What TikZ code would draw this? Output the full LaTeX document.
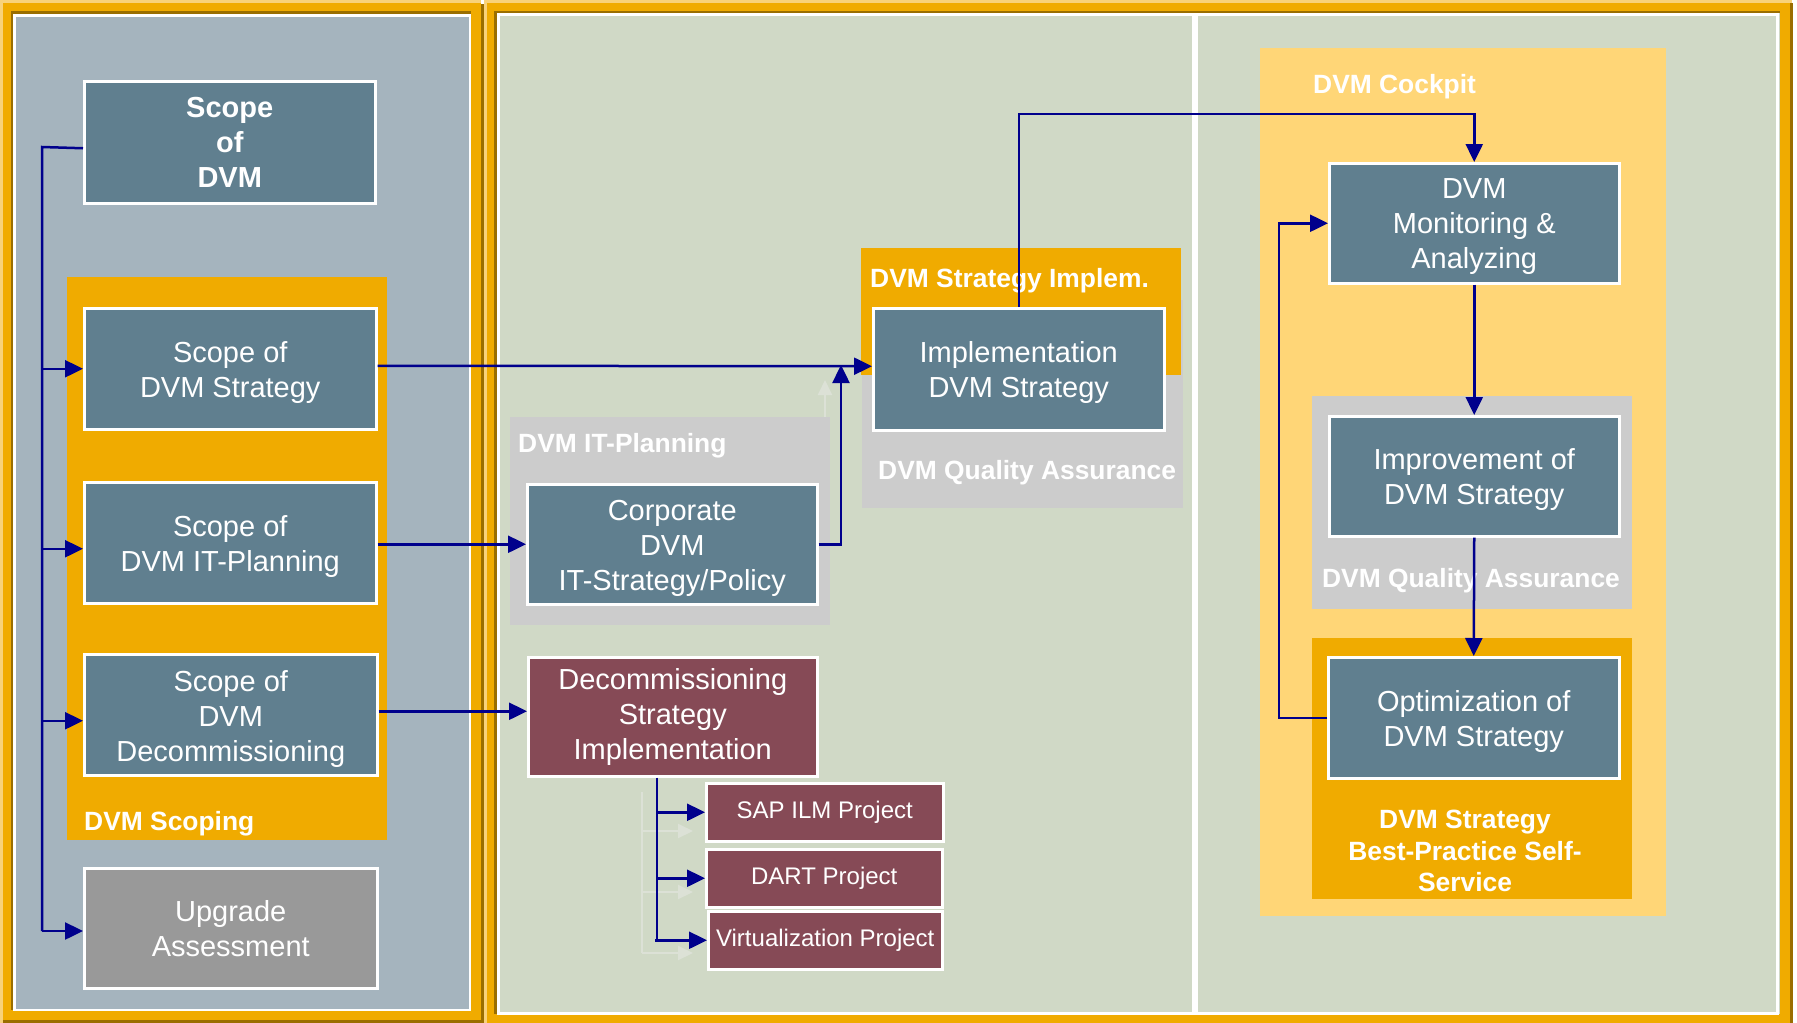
\documentclass[tikz,border=0pt]{standalone}
\usepackage{fontspec}
\setmainfont{Liberation Sans}
\usetikzlibrary{arrows.meta}
\definecolor{sapgold}{HTML}{F0AB00}
\definecolor{lightgold}{HTML}{FFD677}
\definecolor{framebrown}{HTML}{9A6E00}
\definecolor{framelight}{HTML}{F8D27A}
\definecolor{leftbg}{HTML}{A5B4BE}
\definecolor{rightbg}{HTML}{D0D9C6}
\definecolor{slate}{HTML}{607F8F}
\definecolor{maroon}{HTML}{864A56}
\definecolor{lgray}{HTML}{CCCCCC}
\definecolor{upgray}{HTML}{999999}
\definecolor{navy}{HTML}{00008C}
\definecolor{ghostc}{HTML}{DCE1D6}
\newcommand\bxfont{\fontsize{29}{35}\selectfont}
\newcommand\bxboldfont{\fontsize{29}{35}\selectfont\bfseries}
\newcommand\prjfont{\fontsize{24}{29}\selectfont}
\newcommand\lblfont{\fontsize{26.4}{31.5}\selectfont\bfseries}
\newcommand\fl{\rule{0pt}{28.5pt}}
\newcommand\fls{\rule{0pt}{26pt}}
\tikzset{
  box/.style={rectangle, draw=white, line width=2.5pt, fill=slate, text=white,
    align=center, font=\bxfont, inner sep=0pt, anchor=north west},
  boldbox/.style={box, font=\bxboldfont},
  mbox/.style={box, fill=maroon},
  pbox/.style={box, fill=maroon, font=\prjfont},
  lbl/.style={text=white, font=\lblfont, inner sep=0pt, anchor=base west},
  conn/.style={draw=navy, line width=2.5pt},
  arr/.style={conn, -{Triangle[length=18pt,width=17pt]}},
  ghost/.style={draw=ghostc, line width=2pt},
  ghostarr/.style={ghost, -{Triangle[length=15pt,width=14pt]}},
}
\begin{document}
\begin{tikzpicture}[x=1pt,y=-1pt]
\useasboundingbox (0,0) rectangle (1797,1023);
% ---------- panels ----------
\fill[leftbg] (12,12) rectangle (472,1012);
\fill[rightbg] (494,11) rectangle (1781,1014);
\draw[framebrown, line width=10pt] (8,8.5) rectangle (478.5,1017.5);
\draw[framebrown, line width=10pt] (491.5,8) rectangle (1787.5,1021);
\draw[sapgold, line width=10pt] (5.5,6) rectangle (476,1015);
\draw[sapgold, line width=10pt] (489,5.5) rectangle (1785,1018.5);
\draw[framelight, line width=2.5pt] (1.25,1023) -- (1.25,1.25) -- (481,1.25);
\draw[framelight, line width=2.5pt] (485.25,1023) -- (485.25,1.25) -- (1792,1.25);
\draw[white, line width=2.5pt] (14.25,15.25) rectangle (470,1010);
\draw[white, line width=3pt] (498.5,14.5) rectangle (1777.5,1013.5);
\fill[white] (1192,16) rectangle (1198,1012);
% ---------- group backgrounds ----------
\fill[sapgold] (67,277) rectangle (387,840);
\fill[lgray] (510,417) rectangle (830,625);
\fill[lgray] (862,300) rectangle (1183,508);
\fill[sapgold] (861,248) rectangle (1181,375);
\fill[lightgold] (1260,48) rectangle (1666,916);
\fill[lgray] (1312,396) rectangle (1632,609);
\fill[sapgold] (1312,638) rectangle (1632,899);
% ---------- group labels ----------
\node[lbl] (lScoping) at (84,830) {DVM Scoping};
\node[lbl] (lITPlan) at (518,452) {DVM IT-Planning};
\node[lbl] (lImplem) at (870,287) {DVM Strategy Implem.};
\node[lbl] (lQA1) at (878,479) {DVM Quality Assurance};
\node[lbl] (lCockpit) at (1313,93) {DVM Cockpit};
\node[lbl, anchor=base] (lQA2) at (1471,587) {DVM Quality Assurance};
\node[lbl, anchor=center, align=center] (lBP) at (1465,851) {DVM Strategy\\Best-Practice Self-\\Service};
% ---------- boxes ----------
\node[boldbox, minimum width=291pt, minimum height=122pt] (scopeDVM) at (83,80) {Scope\\of\\DVM};
\node[box, minimum width=292pt, minimum height=121pt] (strat) at (83,307) {\fl Scope of\\DVM Strategy};
\node[box, minimum width=292pt, minimum height=121pt] (itplan) at (83,481) {\fl Scope of\\DVM IT-Planning};
\node[box, minimum width=293pt, minimum height=121pt] (decom) at (83,653) {\fl Scope of\\DVM\\Decommissioning};
\node[box, fill=upgray, minimum width=293pt, minimum height=120pt] (upgrade) at (83,867) {Upgrade\\Assessment};
\node[box, minimum width=290pt, minimum height=120pt] (corp) at (526,483) {\fl Corporate\\DVM\\IT-Strategy/Policy};
\node[box, minimum width=291pt, minimum height=122pt] (impl) at (872,307) {\fl Implementation\\DVM Strategy};
\node[mbox, minimum width=289pt, minimum height=119pt] (decomImpl) at (527,656) {Decommissioning\\Strategy\\Implementation};
\node[pbox, minimum width=237pt, minimum height=58pt] (sap) at (705,782) {SAP ILM Project};
\node[pbox, minimum width=236pt, minimum height=58pt] (dart) at (705,848) {DART Project};
\node[pbox, minimum width=234pt, minimum height=58pt] (virt) at (707,910) {Virtualization Project};
\node[box, minimum width=290pt, minimum height=120pt] (mon) at (1328,162) {\fls DVM\\Monitoring \&\\Analyzing};
\node[box, minimum width=290pt, minimum height=120pt] (imp) at (1328,415) {\fl Improvement of\\DVM Strategy};
\node[box, minimum width=291pt, minimum height=121pt] (opt) at (1327,656) {\fl Optimization of\\DVM Strategy};
% ---------- ghost arrows ----------
\coordinate (g1) at (642,792);
\coordinate (g2) at (642,953);
\coordinate (gh1) at (693,831);
\coordinate (gh2) at (693,892);
\coordinate (gh3) at (693,953);
\draw[ghost] (g1) -- (g2);
\draw[ghostarr] (gh1 -| g1) -- (gh1);
\draw[ghostarr] (gh2 -| g1) -- (gh2);
\draw[ghostarr] (gh3 -| g1) -- (gh3);
\coordinate (gu1) at (825,417);
\coordinate (gu2) at (825,380);
\draw[ghostarr] (gu1) -- (gu2);
% ---------- connectors ----------
\coordinate (busTop) at (42,147);
\coordinate (busBot) at (42,931);
\draw[conn] ([yshift=-6pt]scopeDVM.west) -- (busTop) -- (busBot);
\draw[arr] (busTop |- strat.west) -- (strat.west);
\draw[arr] ([yshift=-6pt,xshift=-41pt]itplan.west) -- ([yshift=-6pt]itplan.west);
\draw[arr] ([yshift=-6pt,xshift=-41pt]decom.west) -- ([yshift=-6pt]decom.west);
\draw[arr] (busBot) -- (busBot -| upgrade.west);
\draw[arr] ([yshift=3pt]strat.east) -- ([yshift=3pt]impl.west);
\draw[arr] (itplan.east |- corp.west) -- (corp.west);
\coordinate (dA) at ([yshift=3.5pt]decom.east);
\draw[arr] (dA) -- (dA -| decomImpl.west);
\coordinate (cj) at (841,365);
\draw[arr] (corp.east) -| (cj);
\coordinate (topY) at (0,114);
\draw[arr] (impl.north) |- (topY -| mon.north) -- (mon.north);
\draw[arr] (mon.south) -- (imp.north);
\draw[arr] (imp.south) -- (opt.north);
\coordinate (fb) at (1279,0);
\draw[arr] (opt.west) -| (fb |- mon.west) -- (mon.west);
\coordinate (dv) at (657,939);
\draw[conn] (dv |- decomImpl.south) -- (dv);
\draw[arr] (dv |- sap.west) -- (sap.west);
\draw[arr] (dv |- dart.west) -- (dart.west);
\draw[arr] ([xshift=-2pt]dv |- virt.west) -- (virt.west);
\end{tikzpicture}
\end{document}
